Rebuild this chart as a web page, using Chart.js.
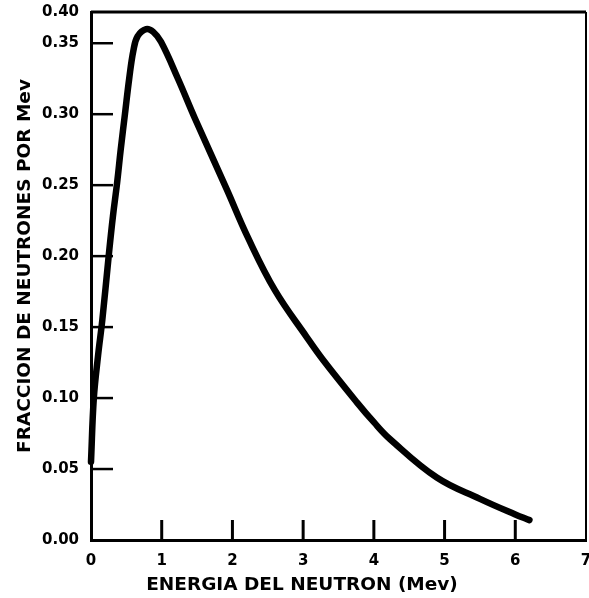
<!DOCTYPE html>
<html>
<head>
<meta charset="utf-8">
<script src="https://cdn.jsdelivr.net/npm/chart.js@4.4.1/dist/chart.umd.min.js"></script>
<style>
  html, body { margin: 0; padding: 0; background: #fff; }
</style>
</head>
<body>
<canvas id="chart" width="589" height="598"></canvas>
<script>
/* ---------- data ---------- */
const energy   = [0, 0.04, 0.10, 0.16, 0.25, 0.31, 0.37, 0.42, 0.48, 0.54, 0.60, 0.66, 0.78, 0.88, 0.99, 1.23, 1.47, 1.92, 2.22, 2.60, 3.05, 3.28, 3.76, 4.0, 4.23, 4.89, 5.5, 6.0, 6.2];
const fraction = [0.055, 0.10, 0.13, 0.155, 0.20, 0.228, 0.252, 0.275, 0.30, 0.325, 0.345, 0.355, 0.36, 0.358, 0.351, 0.325, 0.297, 0.247, 0.213, 0.176, 0.143, 0.127, 0.097, 0.083, 0.071, 0.044, 0.029, 0.018, 0.014];

const xTicks      = [0, 1, 2, 3, 4, 5, 6, 7];
const yTicks      = [0, 0.05, 0.10, 0.15, 0.20, 0.25, 0.30, 0.35];
const yTop        = 0.372;          // frame top (printed as 0.40 in the original)
const yTopLabel   = '0.40';
const xTitle      = 'ENERGIA DEL NEUTRON (Mev)';
const yTitle      = 'FRACCION DE NEUTRONES POR Mev';

/* ---------- helpers ---------- */
const tickFont  = { family: 'DejaVu Sans', weight: 'bold', size: 15 };
const titleFont = 'bold 18.5px "DejaVu Sans"';

// inward tick marks, closed frame and the two axis titles
const framePlugin = {
  id: 'frame',
  beforeDatasetsDraw(chart) {
    const { ctx, chartArea: a, scales: { x, y } } = chart;
    ctx.save();
    ctx.strokeStyle = '#000';
    ctx.lineCap = 'butt';

    ctx.lineWidth = 2.5;
    yTicks.slice(1).forEach(v => {
      const py = y.getPixelForValue(v);
      ctx.beginPath(); ctx.moveTo(a.left, py); ctx.lineTo(a.left + 22, py); ctx.stroke();
    });

    ctx.lineWidth = 3;
    xTicks.slice(1, -1).forEach(v => {
      const px = x.getPixelForValue(v);
      ctx.beginPath(); ctx.moveTo(px, a.bottom); ctx.lineTo(px, a.bottom - 20); ctx.stroke();
    });

    // top + right edges of the box
    ctx.lineWidth = 3;
    ctx.beginPath(); ctx.moveTo(a.left, a.top); ctx.lineTo(a.right, a.top); ctx.stroke();
    ctx.lineWidth = 2;
    ctx.beginPath(); ctx.moveTo(a.right, a.top); ctx.lineTo(a.right, a.bottom); ctx.stroke();
    ctx.restore();
  },
  afterDraw(chart) {
    const { ctx } = chart;
    ctx.save();
    ctx.fillStyle = '#000';
    ctx.font = titleFont;
    ctx.textAlign = 'center';
    ctx.textBaseline = 'alphabetic';
    ctx.fillText(xTitle, 302, 590);
    ctx.translate(30, 266);
    ctx.rotate(-Math.PI / 2);
    ctx.fillText(yTitle, 0, 0);
    ctx.restore();
  }
};

/* ---------- chart ---------- */
new Chart(document.getElementById('chart'), {
  type: 'scatter',
  data: {
    datasets: [{
      data: energy.map((e, i) => ({ x: e, y: fraction[i] })),
      showLine: true,
      borderColor: '#000',
      borderWidth: 6.5,
      pointRadius: 0,
      tension: 0.4,
      borderCapStyle: 'round',
      borderJoinStyle: 'round',
      clip: false
    }]
  },
  options: {
    responsive: false,
    animation: false,
    layout: { padding: { top: 12, right: 3, left: 0, bottom: 0 } },
    plugins: { legend: { display: false }, tooltip: { enabled: false } },
    scales: {
      x: {
        type: 'linear', min: 0, max: 7,
        afterBuildTicks: s => { s.ticks = xTicks.map(v => ({ value: v })); },
        afterFit: s => { s.height = 58; s.paddingLeft = 0; s.paddingRight = 0; },
        ticks: { font: tickFont, color: '#000', padding: 12, maxRotation: 0, autoSkip: false },
        grid: { display: false, drawTicks: false },
        border: { display: true, color: '#000', width: 3 }
      },
      y: {
        type: 'linear', min: 0, max: yTop,
        afterBuildTicks: s => { s.ticks = yTicks.concat([yTop]).map(v => ({ value: v })); },
        afterFit: s => { s.width = 91; s.paddingTop = 0; s.paddingBottom = 0; },
        ticks: {
          font: tickFont, color: '#000', padding: 12, autoSkip: false,
          callback: v => v === yTop ? yTopLabel : v.toFixed(2)
        },
        grid: { display: false, drawTicks: false },
        border: { display: true, color: '#000', width: 3 }
      }
    }
  },
  plugins: [framePlugin]
});
</script>
</body>
</html>
